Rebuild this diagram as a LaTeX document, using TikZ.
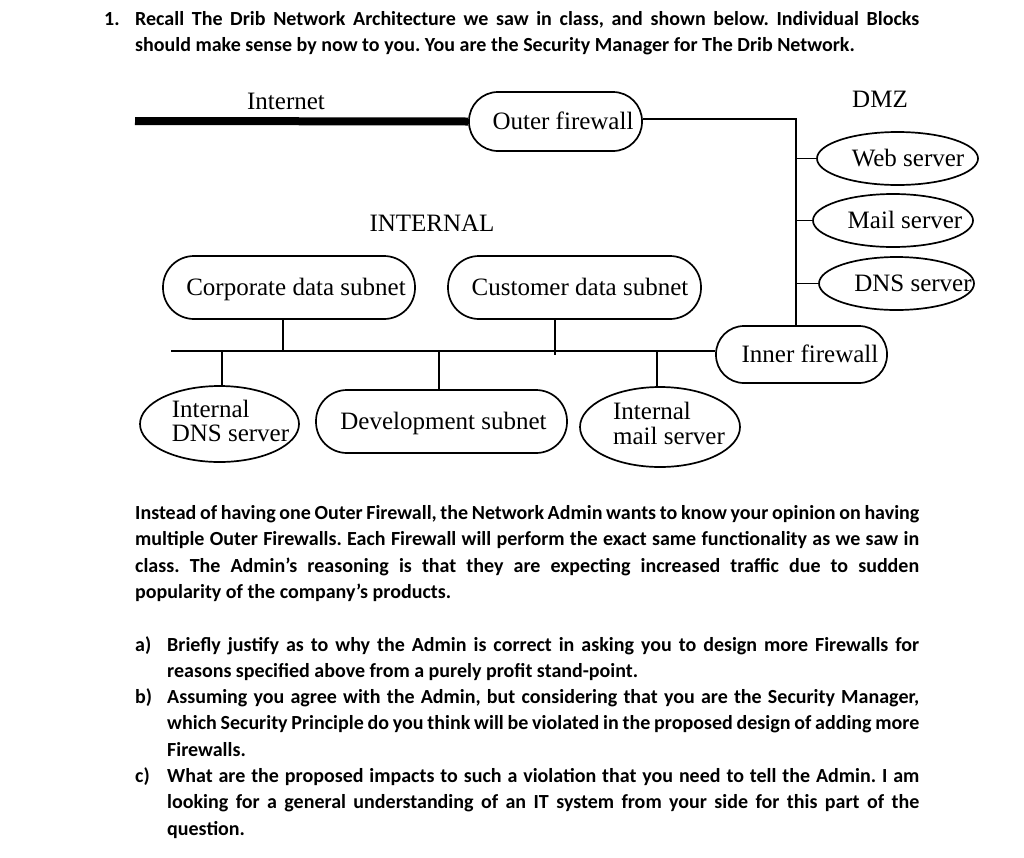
\documentclass[tikz,border=0pt]{standalone}
\usepackage{fontspec}
\setmainfont{Carlito}
\newfontfamily\tnr{Liberation Serif}
\usetikzlibrary{shapes.geometric}
\newcommand{\jline}[2]{\makebox[#1][s]{#2}}
\frenchspacing
\begin{document}
\begin{tikzpicture}[x=1pt,y=-1pt,
  conn/.style={line width=1.7pt},
  pill/.style={draw, line width=1.7pt, rectangle, rounded corners=#1, inner sep=0pt},
  pill/.default=28pt,
  oval/.style={draw, line width=1.7pt, ellipse, inner sep=0pt},
  lbl/.style={font=\tnr\fontsize{25}{24}\selectfont, inner sep=0pt},
  oneline/.style={text height=19pt, text depth=3pt},
  body/.style={font=\bfseries\fontsize{20}{26}\selectfont, inner sep=0pt, anchor=base west}]
\useasboundingbox[fill=white] (0,0) rectangle (1024,857);

% ---- question text ----
\node[body] (n1) at (104,25) {1.};
\node[body] (p1a) at (135,25) {\jline{784pt}{Recall The Drib Network Architecture we saw in class, and shown below. Individual Blocks}};
\node[body] (p1b) at (135,51) {should make sense by now to you. You are the Security Manager for The Drib Network.};

% ---- diagram ----
\node[lbl, anchor=base] (inet) at (286,109) {Internet};
\node[lbl, anchor=base] (dmz) at (880,107) {DMZ};
\node[lbl, anchor=base] (intl) at (432,231) {INTERNAL};

\node[pill=29pt, lbl, oneline, minimum width=173pt, minimum height=59pt] (ofw) at (555.5,121.5) {\makebox[0pt]{\hspace{15pt}Outer firewall}};
\node[oval, lbl, oneline, minimum width=161pt, minimum height=53pt] (web) at (897.5,158.5) {\makebox[0pt]{\hspace{21pt}Web server}};
\node[oval, lbl, oneline, minimum width=160pt, minimum height=53pt] (mail) at (893,220.5) {\makebox[0pt]{\hspace{24pt}Mail server}};
\node[oval, lbl, oneline, minimum width=155pt, minimum height=53pt] (dns) at (896.5,283.5) {\makebox[0pt]{\hspace{33pt}DNS server}};

\node[pill=31pt, lbl, oneline, minimum width=252pt, minimum height=63pt] (corp) at (289,287.5) {\makebox[0pt]{\hspace{14pt}Corporate data subnet}};
\node[pill=31pt, lbl, oneline, minimum width=253pt, minimum height=63pt] (cust) at (574.5,287.5) {\makebox[0pt]{\hspace{11pt}Customer data subnet}};
\node[pill=28pt, lbl, oneline, minimum width=171pt, minimum height=57pt] (ifw) at (801.5,354.5) {\makebox[0pt]{\hspace{17pt}Inner firewall}};

\node[oval, lbl, minimum width=159pt, minimum height=76pt] (idns) at (219.5,424) {\makebox[0pt]{\hspace{22pt}\raisebox{-2pt}{\begin{tabular}{@{}l@{}}Internal\\DNS server\end{tabular}}}};
\node[pill=31pt, lbl, oneline, minimum width=251pt, minimum height=63pt] (dev) at (441.5,421.5) {\makebox[0pt]{\hspace{4pt}Development subnet}};
\node[oval, lbl, minimum width=160pt, minimum height=80pt] (imail) at (660,427) {\makebox[0pt]{\hspace{18pt}\begin{tabular}{@{}l@{}}Internal\\mail server\end{tabular}}};

\coordinate (inetL) at (135,121);
\coordinate (dmzT) at (796,119);
\coordinate (busL) at (171,351);

\draw[line width=8pt] (inetL) -- (ofw.west);
\draw[conn] (ofw.east |- dmzT) -- (dmzT) -- (dmzT |- ifw.north);
\draw[conn] (dmzT |- web.west) -- (web.west);
\draw[conn] (dmzT |- mail.west) -- (mail.west);
\draw[conn] (dmzT |- dns.west) -- (dns.west);

\draw[conn] (busL) -- (busL -| ifw.west);
\draw[conn] ([xshift=-6pt]corp.south) -- ([xshift=-6pt]corp.south |- busL);
\draw[conn] ([xshift=-19.5pt]cust.south) -- ++(0,35);
\draw[conn] ([xshift=2.5pt]idns.north |- busL) -- ([xshift=2.5pt]idns.north);
\draw[conn] ([xshift=-2.5pt]dev.north |- busL) -- ([xshift=-2.5pt]dev.north);
\draw[conn] ([xshift=-3pt]imail.north |- busL) -- ([xshift=-3pt]imail.north);

% ---- question text ----
\node[body] (p2a) at (135,519) {\jline{784pt}{Instead of having one Outer Firewall, the Network Admin wants to know your opinion on having}};
\node[body] (p2b) at (135,545) {\jline{784pt}{multiple Outer Firewalls. Each Firewall will perform the exact same functionality as we saw in}};
\node[body] (p2c) at (135,572) {\jline{784pt}{class. The Admin’s reasoning is that they are expecting increased traffic due to sudden}};
\node[body] (p2d) at (135,598) {popularity of the company’s products.};

\node[body] (ia) at (135,651) {a)};
\node[body] (ia1) at (167,651) {\jline{752pt}{Briefly justify as to why the Admin is correct in asking you to design more Firewalls for}};
\node[body] (ia2) at (167,677) {reasons specified above from a purely profit stand-point.};
\node[body] (ib) at (135,703) {b)};
\node[body] (ib1) at (167,703) {\jline{752pt}{Assuming you agree with the Admin, but considering that you are the Security Manager,}};
\node[body] (ib2) at (167,729) {\jline{752pt}{which Security Principle do you think will be violated in the proposed design of adding more}};
\node[body] (ib3) at (167,756) {Firewalls.};
\node[body] (ic) at (135,782) {c)};
\node[body] (ic1) at (167,782) {\jline{752pt}{What are the proposed impacts to such a violation that you need to tell the Admin. I am}};
\node[body] (ic2) at (167,808) {\jline{752pt}{looking for a general understanding of an IT system from your side for this part of the}};
\node[body] (ic3) at (167,835) {question.};
\end{tikzpicture}
\end{document}
